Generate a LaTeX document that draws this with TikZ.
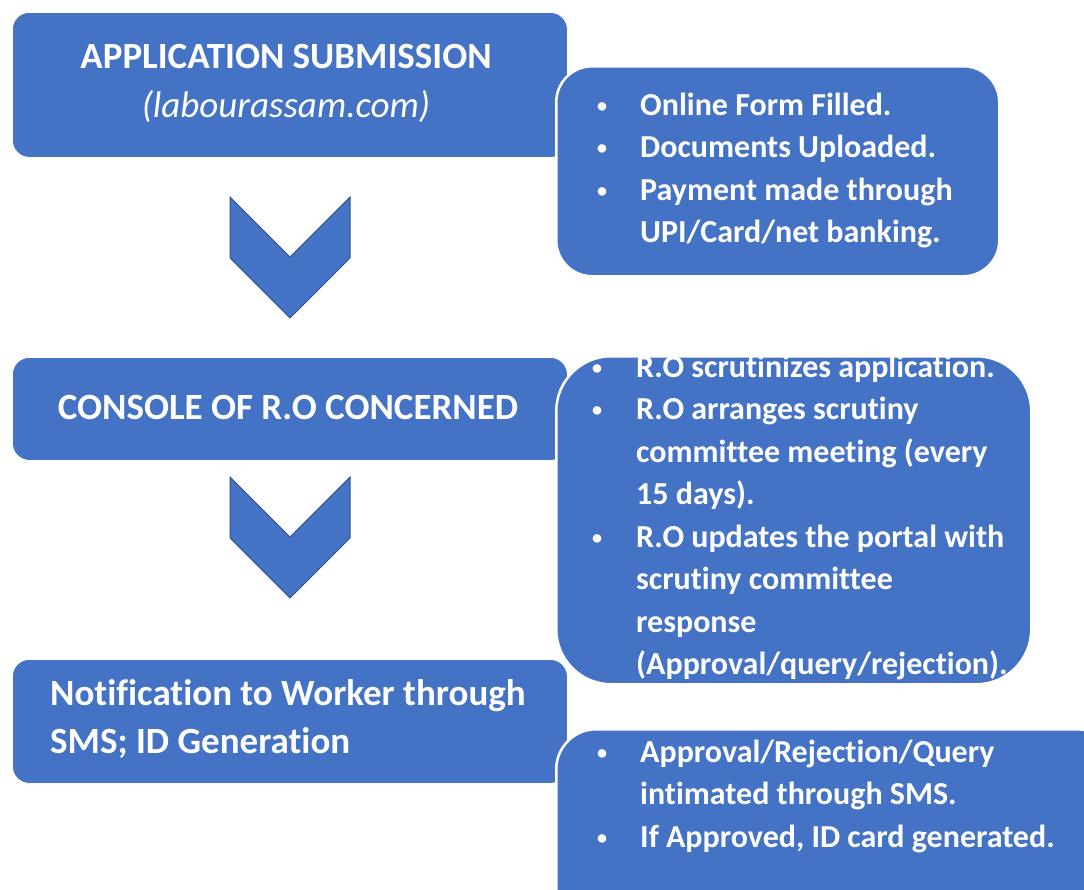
\documentclass[tikz,border=0pt]{standalone}
\usepackage{fontspec}
\setmainfont{Carlito}[Ligatures=NoCommon]
\definecolor{boxblue}{HTML}{4472C4}
\definecolor{edgeblue}{HTML}{2F528F}
\newcommand{\bul}{\raisebox{3pt}{\fontsize{20}{20}\selectfont\textbullet}}
\begin{document}
\begin{tikzpicture}[x=1pt,y=-1pt,
  mainbox/.style={fill=boxblue, draw=white, line width=0.8pt, rounded corners=17pt, rectangle, anchor=north west, inner sep=0pt},
  bulletbox/.style={fill=boxblue, draw=white, line width=2.5pt, rectangle, anchor=north west, inner sep=0pt},
  chevron/.style={fill=boxblue, draw=edgeblue, line width=1pt, line join=miter},
  head/.style={text=white, font=\fontsize{37}{48}\selectfont\bfseries, inner sep=0pt, anchor=base},
  items/.style={text=white, font=\fontsize{32}{42.5}\selectfont\bfseries, inner sep=0pt, anchor=base west, align=left}]
\useasboundingbox (0,0) rectangle (1084,889);
\clip (0,0) rectangle (1084,889);

% step 1
\node[mainbox, minimum width=555pt, minimum height=145pt] (box1) at (12,12) {};
\node[head] (t1a) at (286,68) {APPLICATION SUBMISSION};
\node[text=white, font=\fontsize{37}{48}\selectfont\itshape, inner sep=0pt, anchor=base] (t1b) at (286,117) {(labourassam.com)};
\node[bulletbox, rounded corners=36pt, minimum width=443pt, minimum height=210pt] (box2) at (555,65) {};
\node[items] (t2) at (597,115) {\begin{tabular}[t]{@{}p{43pt}@{}l@{}}
\bul & Online Form Filled.\\
\bul & Documents Uploaded.\\
\bul & Payment made through\\
 & UPI/Card/net banking.
\end{tabular}};

% arrow 1
\draw[chevron] (230,197) -- (290,257) -- (350,197) -- (350,258) -- (290,318) -- (230,258) -- cycle;

% step 2
\node[mainbox, minimum width=555pt, minimum height=103pt] (box3) at (12,357) {};
\node[head] (t3) at (288,419) {CONSOLE OF R.O CONCERNED};
\node[bulletbox, rounded corners=55pt, minimum width=475pt, minimum height=328pt] (box4) at (555,355) {};
\node[items] (t4) at (592,377) {\begin{tabular}[t]{@{}p{44pt}@{}l@{}}
\bul & R.O scrutinizes application.\\
\bul & R.O arranges scrutiny\\
 & committee meeting (every\\
 & 15 days).\\
\bul & R.O updates the portal with\\
 & scrutiny committee\\
 & response\\
 & (Approval/query/rejection).
\end{tabular}};

% arrow 2
\draw[chevron] (230,477) -- (290,537) -- (350,477) -- (350,538) -- (290,598) -- (230,538) -- cycle;

% step 3
\node[mainbox, minimum width=555pt, minimum height=124pt] (box5) at (12,659) {};
\node[text=white, font=\fontsize{37}{48}\selectfont\bfseries, inner sep=0pt, anchor=base west] (t5) at (50,705) {\begin{tabular}[t]{@{}l@{}}Notification to Worker through\\SMS; ID Generation\end{tabular}};
\node[bulletbox, rounded corners=40pt, minimum width=560pt, minimum height=220pt] (box6) at (555,728) {};
\node[items] (t6) at (597,762) {\begin{tabular}[t]{@{}p{43pt}@{}l@{}}
\bul & Approval/Rejection/Query\\
 & intimated through SMS.\\
\bul & If Approved, ID card generated.
\end{tabular}};
\end{tikzpicture}
\end{document}
